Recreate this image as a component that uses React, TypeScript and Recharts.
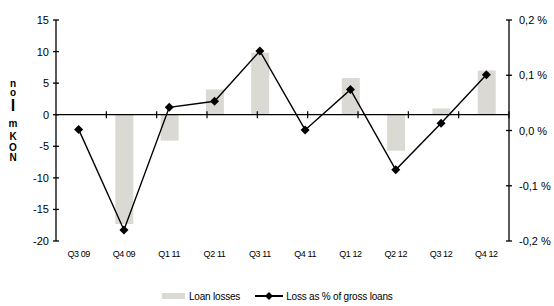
import { ComposedChart, Bar, Line, XAxis, YAxis, ReferenceLine, Legend } from 'recharts';

// quarter labels and values
const quarters = ['Q3 09', 'Q4 09', 'Q1 11', 'Q2 11', 'Q3 11', 'Q4 11', 'Q1 12', 'Q2 12', 'Q3 12', 'Q4 12'];
const loanLosses = [0, -17.3, -4.1, 4.0, 9.8, 0, 5.8, -5.7, 1.0, 7.0];
const lossPct = [0.002, -0.18, 0.042, 0.053, 0.144, 0.001, 0.074, -0.071, 0.013, 0.101];

const leftTicks = [-20, -15, -10, -5, 0, 5, 10, 15];
const rightTicks = [-0.2, -0.1, 0, 0.1, 0.2];
// category boundaries on the zero line (helper numeric axis, one unit per quarter)
const boundaries = [1, 2, 3, 4, 5, 6, 7, 8, 9];
// y-axis caption as it appears in the picture: upright letters stacked top to bottom
const yLabelLetters = ['n', 'o', 'l', 'm', 'K', 'O', 'N'];

const data = quarters.map((q, i) => ({ q, losses: loanLosses[i], pct: lossPct[i] }));

const BAR = '#dbd9d4';
const FONT = '"Liberation Sans", Arial, sans-serif';

const fmtPct = (v: number) => `${v.toFixed(1).replace('.', ',')} %`;

const LeftTick = ({ x, y, payload }: any) => (
  <g>
    <line x1={x + 4} x2={x + 10} y1={y} y2={y} stroke="#000" strokeWidth={1.3} />
    <text x={x} y={y} dy={4} textAnchor="end" fontSize={11} fill="#000" fontFamily={FONT}>
      {payload.value}
    </text>
  </g>
);

const RightTick = ({ x, y, payload }: any) => (
  <g>
    <line x1={x - 13} x2={x - 7} y1={y} y2={y} stroke="#000" strokeWidth={1.3} />
    <text x={x} y={y} dy={4} textAnchor="start" fontSize={11} fill="#000" fontFamily={FONT}>
      {fmtPct(payload.value)}
    </text>
  </g>
);

const Diamond = ({ cx, cy }: any) => {
  if (cx == null || cy == null) return null;
  const r = 4.5;
  return <polygon points={`${cx},${cy - r} ${cx + r},${cy} ${cx},${cy + r} ${cx - r},${cy}`} fill="#000" />;
};

// baselines / sizes for the stacked caption letters
const letterBase = [87, 96, 111, 127, 140, 151, 161];
const letterSize = [10, 10, 16, 10, 10, 10, 10];

const StackedLabel = () => (
  <g>
    {yLabelLetters.map((ch, i) => (
      <text
        key={i}
        x={13}
        y={letterBase[i]}
        textAnchor="middle"
        fontSize={letterSize[i]}
        fontWeight="bold"
        fill="#000"
        fontFamily={FONT}
      >
        {ch}
      </text>
    ))}
  </g>
);

const LegendContent = () => (
  <div
    style={{
      display: 'flex',
      alignItems: 'center',
      paddingLeft: 162,
      fontSize: 10,
      fontFamily: FONT,
      color: '#000',
      letterSpacing: -0.2,
      height: 16,
    }}
  >
    <span style={{ width: 23, height: 6, background: BAR, display: 'inline-block', marginRight: 4 }} />
    <span style={{ marginRight: 15 }}>Loan losses</span>
    <svg width={28} height={10} style={{ marginRight: 3 }}>
      <line x1={0} x2={28} y1={5} y2={5} stroke="#000" strokeWidth={2} />
      <polygon points="14,1 18,5 14,9 10,5" fill="#000" />
    </svg>
    <span>Loss as % of gross loans</span>
  </div>
);

export default function App() {
  return (
    <div style={{ width: 554, height: 306, background: '#fff', fontFamily: FONT }}>
      <style>{'body{margin:0}'}</style>
      <ComposedChart width={554} height={306} data={data} margin={{ top: 20, right: 0, bottom: 2, left: 0 }}>
        <XAxis
          xAxisId="cat"
          dataKey="q"
          interval={0}
          tickLine={false}
          axisLine={false}
          tickSize={8}
          tickMargin={2}
          height={47}
          tick={{ fontSize: 9, fill: '#000', fontFamily: FONT, letterSpacing: -0.4 }}
        />
        <XAxis xAxisId="grid" type="number" domain={[0, 10]} hide />
        <YAxis
          yAxisId="left"
          domain={[-20, 15]}
          ticks={leftTicks}
          width={56}
          tickSize={3}
          tickMargin={4}
          tickLine={false}
          axisLine={{ stroke: '#000', strokeWidth: 1.3 }}
          tick={<LeftTick />}
          interval={0}
          label={<StackedLabel />}
        />
        <YAxis
          yAxisId="right"
          orientation="right"
          domain={[-0.2, 0.2]}
          ticks={rightTicks}
          width={45}
          tickSize={3}
          tickMargin={7}
          tickLine={false}
          axisLine={{ stroke: '#000', strokeWidth: 1.3 }}
          tick={<RightTick />}
          interval={0}
        />
        <Bar xAxisId="cat" yAxisId="left" dataKey="losses" fill={BAR} barSize={18} isAnimationActive={false} />
        <ReferenceLine xAxisId="grid" yAxisId="left" y={0} stroke="#000" strokeWidth={1.3} />
        {boundaries.map((b) => (
          <ReferenceLine
            key={b}
            xAxisId="grid"
            yAxisId="left"
            segment={[{ x: b, y: -0.55 }, { x: b, y: 0.55 }]}
            stroke="#000"
            strokeWidth={1.2}
          />
        ))}
        <Line
          xAxisId="cat"
          yAxisId="right"
          dataKey="pct"
          stroke="#000"
          strokeWidth={1.4}
          dot={<Diamond />}
          activeDot={false}
          isAnimationActive={false}
        />
        <Legend verticalAlign="bottom" height={16} content={<LegendContent />} />
      </ComposedChart>
    </div>
  );
}
